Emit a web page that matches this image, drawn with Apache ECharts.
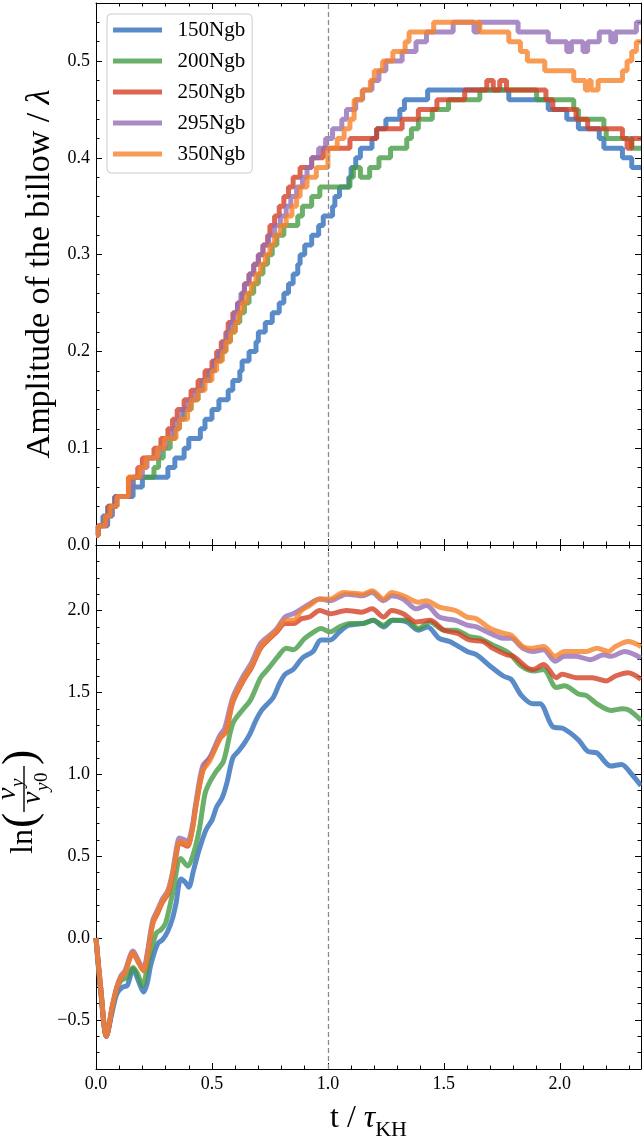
<!DOCTYPE html>
<html>
<head>
<meta charset="utf-8">
<script src="https://cdn.jsdelivr.net/npm/echarts@6/dist/echarts.min.js"></script>
<style>
  html, body { margin: 0; padding: 0; background: #fff; }
  #chart { width: 642px; height: 1142px; }
</style>
</head>
<body>
<div id="chart"></div>
<script>
// runs
const names = ['150Ngb', '200Ngb', '250Ngb', '295Ngb', '350Ngb']
const colors = ['#316ebc', '#459b45', '#d34024', '#936eb8', '#f6822a']

// top panel: amplitude, step curves (time of each jump, value after it)
const ampT150 = [0, 0.01, 0.03, 0.05, 0.08, 0.16, 0.20, 0.31, 0.34, 0.38, 0.40, 0.45, 0.47, 0.50, 0.53, 0.57, 0.59, 0.62, 0.63, 0.66, 0.69, 0.70, 0.73, 0.76, 0.79, 0.81, 0.83, 0.85, 0.87, 0.88, 0.90, 0.93, 0.96, 0.98, 1.02, 1.03, 1.05, 1.09, 1.10, 1.12, 1.14, 1.19, 1.21, 1.25, 1.31, 1.33, 1.43, 1.78, 1.95, 2.03, 2.08, 2.17, 2.19, 2.27, 2.31, 2.35]
const amp150 = [0.01, 0.02, 0.03, 0.04, 0.05, 0.06, 0.07, 0.08, 0.09, 0.10, 0.11, 0.12, 0.13, 0.14, 0.15, 0.16, 0.17, 0.18, 0.19, 0.20, 0.21, 0.22, 0.23, 0.24, 0.25, 0.26, 0.27, 0.28, 0.29, 0.30, 0.31, 0.32, 0.33, 0.34, 0.35, 0.36, 0.37, 0.38, 0.39, 0.40, 0.41, 0.42, 0.43, 0.44, 0.45, 0.46, 0.47, 0.46, 0.45, 0.44, 0.43, 0.42, 0.41, 0.40, 0.39, 0.39]

const ampT200 = [0, 0.01, 0.05, 0.07, 0.09, 0.15, 0.16, 0.25, 0.27, 0.29, 0.32, 0.34, 0.36, 0.38, 0.41, 0.44, 0.46, 0.49, 0.51, 0.54, 0.56, 0.58, 0.60, 0.62, 0.64, 0.66, 0.68, 0.70, 0.72, 0.74, 0.76, 0.78, 0.81, 0.87, 0.89, 0.93, 0.965, 1.095, 1.11, 1.14, 1.18, 1.22, 1.27, 1.34, 1.36, 1.39, 1.45, 1.52, 1.655, 1.90, 2.06, 2.08, 2.19, 2.20, 2.31, 2.35]
const amp200 = [0.01, 0.02, 0.03, 0.04, 0.05, 0.06, 0.07, 0.08, 0.09, 0.10, 0.11, 0.12, 0.13, 0.14, 0.15, 0.16, 0.17, 0.18, 0.19, 0.20, 0.21, 0.22, 0.23, 0.24, 0.25, 0.26, 0.27, 0.28, 0.29, 0.30, 0.31, 0.32, 0.33, 0.34, 0.35, 0.36, 0.37, 0.38, 0.39, 0.38, 0.39, 0.40, 0.41, 0.42, 0.43, 0.44, 0.45, 0.46, 0.47, 0.46, 0.45, 0.44, 0.43, 0.42, 0.41, 0.41]

const ampT250 = [0, 0.01, 0.04, 0.055, 0.085, 0.14, 0.18, 0.20, 0.25, 0.28, 0.31, 0.33, 0.35, 0.38, 0.41, 0.44, 0.47, 0.50, 0.52, 0.54, 0.56, 0.57, 0.59, 0.61, 0.63, 0.64, 0.66, 0.68, 0.70, 0.72, 0.74, 0.75, 0.77, 0.79, 0.81, 0.83, 0.85, 0.88, 0.93, 0.98, 1.095, 1.21, 1.32, 1.39, 1.47, 1.59, 1.685, 1.713, 1.741, 1.77, 1.94, 1.97, 2.07, 2.12, 2.27, 2.29, 2.31, 2.35]
const amp250 = [0.01, 0.02, 0.03, 0.04, 0.05, 0.07, 0.08, 0.09, 0.10, 0.11, 0.12, 0.13, 0.14, 0.15, 0.16, 0.17, 0.18, 0.19, 0.20, 0.21, 0.22, 0.23, 0.24, 0.25, 0.26, 0.27, 0.28, 0.29, 0.30, 0.31, 0.32, 0.33, 0.34, 0.35, 0.36, 0.37, 0.38, 0.39, 0.40, 0.41, 0.42, 0.43, 0.44, 0.45, 0.46, 0.47, 0.48, 0.47, 0.48, 0.47, 0.46, 0.45, 0.44, 0.43, 0.42, 0.41, 0.42, 0.42]

const ampT295 = [0, 0.01, 0.05, 0.07, 0.09, 0.15, 0.16, 0.20, 0.22, 0.27, 0.30, 0.33, 0.35, 0.37, 0.40, 0.43, 0.46, 0.49, 0.51, 0.53, 0.55, 0.565, 0.58, 0.595, 0.61, 0.625, 0.64, 0.66, 0.68, 0.70, 0.72, 0.745, 0.77, 0.795, 0.82, 0.84, 0.865, 0.89, 0.91, 0.93, 0.96, 0.99, 1.02, 1.06, 1.08, 1.12, 1.15, 1.19, 1.22, 1.25, 1.32, 1.38, 1.425, 1.54, 1.63, 1.65, 1.82, 1.95, 2.03, 2.05, 2.10, 2.12, 2.17, 2.22, 2.24, 2.33, 2.35]
const amp295 = [0.01, 0.02, 0.03, 0.04, 0.05, 0.06, 0.07, 0.08, 0.09, 0.10, 0.11, 0.12, 0.13, 0.14, 0.15, 0.16, 0.17, 0.18, 0.19, 0.20, 0.21, 0.22, 0.23, 0.24, 0.25, 0.26, 0.27, 0.28, 0.29, 0.30, 0.31, 0.32, 0.33, 0.34, 0.35, 0.36, 0.37, 0.38, 0.39, 0.40, 0.41, 0.42, 0.43, 0.44, 0.45, 0.46, 0.47, 0.48, 0.49, 0.50, 0.51, 0.52, 0.53, 0.54, 0.53, 0.54, 0.53, 0.52, 0.51, 0.52, 0.51, 0.52, 0.53, 0.52, 0.53, 0.54, 0.54]

const ampT350 = [0, 0.01, 0.04, 0.06, 0.09, 0.14, 0.19, 0.215, 0.265, 0.295, 0.345, 0.36, 0.395, 0.41, 0.44, 0.47, 0.50, 0.52, 0.545, 0.56, 0.58, 0.60, 0.615, 0.63, 0.65, 0.67, 0.69, 0.71, 0.73, 0.75, 0.77, 0.795, 0.82, 0.845, 0.865, 0.88, 0.91, 0.95, 1.0, 1.04, 1.07, 1.095, 1.113, 1.148, 1.183, 1.20, 1.236, 1.28, 1.333, 1.35, 1.456, 1.655, 1.78, 1.83, 1.86, 1.935, 2.06, 2.11, 2.125, 2.135, 2.165, 2.27, 2.29, 2.31, 2.33, 2.35]
const amp350 = [0.01, 0.02, 0.03, 0.04, 0.05, 0.07, 0.08, 0.09, 0.10, 0.11, 0.12, 0.13, 0.14, 0.15, 0.16, 0.17, 0.18, 0.19, 0.20, 0.21, 0.22, 0.23, 0.24, 0.25, 0.26, 0.27, 0.28, 0.29, 0.30, 0.31, 0.32, 0.33, 0.34, 0.35, 0.36, 0.37, 0.38, 0.39, 0.41, 0.42, 0.43, 0.44, 0.46, 0.47, 0.48, 0.49, 0.50, 0.51, 0.52, 0.53, 0.54, 0.53, 0.52, 0.51, 0.50, 0.49, 0.48, 0.47, 0.48, 0.47, 0.48, 0.49, 0.50, 0.51, 0.52, 0.52]

// bottom panel: ln(vy/vy0)
const lnT150 = [0, 0.02, 0.045, 0.07, 0.09, 0.115, 0.135, 0.16, 0.185, 0.205, 0.22, 0.237, 0.266, 0.287, 0.309, 0.33, 0.345, 0.366, 0.385, 0.40, 0.42, 0.445, 0.474, 0.50, 0.52, 0.545, 0.565, 0.59, 0.614, 0.64, 0.665, 0.69, 0.714, 0.74, 0.765, 0.79, 0.815, 0.85, 0.89, 0.936, 0.97, 1.01, 1.05, 1.09, 1.15, 1.195, 1.24, 1.28, 1.34, 1.39, 1.43, 1.48, 1.525, 1.60, 1.64, 1.70, 1.756, 1.79, 1.835, 1.885, 1.914, 1.97, 2.014, 2.08, 2.12, 2.16, 2.22, 2.266, 2.31, 2.35]
const ln150 = [0, -0.32, -0.60, -0.45, -0.34, -0.30, -0.29, -0.19, -0.27, -0.33, -0.28, -0.16, -0.035, -0.01, 0.04, 0.12, 0.21, 0.36, 0.34, 0.31, 0.41, 0.54, 0.66, 0.72, 0.80, 0.86, 0.95, 1.10, 1.14, 1.19, 1.25, 1.33, 1.39, 1.43, 1.47, 1.55, 1.61, 1.64, 1.71, 1.75, 1.82, 1.82, 1.87, 1.91, 1.92, 1.94, 1.90, 1.94, 1.93, 1.88, 1.90, 1.83, 1.81, 1.75, 1.73, 1.66, 1.60, 1.58, 1.48, 1.43, 1.43, 1.29, 1.28, 1.21, 1.14, 1.13, 1.05, 1.06, 1.00, 0.93]

const lnT200 = [0, 0.02, 0.045, 0.07, 0.09, 0.108, 0.135, 0.16, 0.18, 0.20, 0.23, 0.26, 0.28, 0.30, 0.33, 0.366, 0.395, 0.417, 0.445, 0.47, 0.49, 0.52, 0.55, 0.59, 0.63, 0.665, 0.71, 0.74, 0.785, 0.82, 0.85, 0.90, 0.94, 0.97, 1.01, 1.05, 1.095, 1.15, 1.195, 1.24, 1.275, 1.34, 1.39, 1.44, 1.50, 1.55, 1.61, 1.655, 1.71, 1.78, 1.835, 1.89, 1.93, 1.985, 2.02, 2.08, 2.115, 2.16, 2.22, 2.27, 2.30, 2.35]
const ln200 = [0, -0.32, -0.60, -0.43, -0.31, -0.26, -0.24, -0.18, -0.22, -0.29, -0.12, 0.03, 0.05, 0.09, 0.27, 0.485, 0.44, 0.50, 0.66, 0.88, 0.95, 1.02, 1.08, 1.31, 1.39, 1.45, 1.59, 1.64, 1.72, 1.77, 1.76, 1.83, 1.87, 1.89, 1.87, 1.90, 1.92, 1.92, 1.94, 1.91, 1.94, 1.94, 1.89, 1.93, 1.88, 1.88, 1.84, 1.83, 1.79, 1.74, 1.66, 1.63, 1.64, 1.53, 1.54, 1.49, 1.48, 1.43, 1.39, 1.40, 1.39, 1.33]

const lnT250 = [0, 0.02, 0.045, 0.07, 0.09, 0.108, 0.125, 0.16, 0.18, 0.205, 0.22, 0.245, 0.265, 0.287, 0.31, 0.33, 0.345, 0.36, 0.38, 0.395, 0.415, 0.43, 0.46, 0.48, 0.50, 0.535, 0.56, 0.59, 0.635, 0.67, 0.71, 0.75, 0.78, 0.815, 0.85, 0.886, 0.92, 0.965, 1.01, 1.08, 1.145, 1.19, 1.24, 1.275, 1.325, 1.38, 1.44, 1.50, 1.56, 1.61, 1.67, 1.71, 1.77, 1.80, 1.86, 1.885, 1.93, 1.985, 2.01, 2.07, 2.14, 2.20, 2.24, 2.295, 2.35]
const ln250 = [0, -0.30, -0.60, -0.42, -0.30, -0.24, -0.21, -0.09, -0.14, -0.20, -0.12, 0.09, 0.15, 0.22, 0.27, 0.38, 0.50, 0.58, 0.57, 0.56, 0.66, 0.80, 1.02, 1.08, 1.12, 1.22, 1.26, 1.44, 1.57, 1.65, 1.77, 1.83, 1.87, 1.92, 1.92, 1.95, 1.96, 2.00, 1.98, 2.00, 1.99, 2.01, 1.96, 2.00, 1.98, 1.93, 1.94, 1.88, 1.86, 1.82, 1.81, 1.77, 1.73, 1.72, 1.65, 1.64, 1.67, 1.59, 1.61, 1.59, 1.59, 1.57, 1.60, 1.62, 1.58]

const lnT295 = [0, 0.02, 0.045, 0.07, 0.09, 0.108, 0.125, 0.16, 0.18, 0.205, 0.22, 0.245, 0.265, 0.287, 0.31, 0.33, 0.345, 0.36, 0.38, 0.395, 0.415, 0.43, 0.46, 0.49, 0.535, 0.555, 0.59, 0.635, 0.67, 0.71, 0.75, 0.78, 0.815, 0.85, 0.886, 0.92, 0.965, 1.01, 1.08, 1.15, 1.19, 1.24, 1.275, 1.325, 1.38, 1.425, 1.48, 1.55, 1.60, 1.64, 1.70, 1.76, 1.79, 1.84, 1.885, 1.93, 1.98, 2.02, 2.07, 2.13, 2.19, 2.22, 2.28, 2.35]
const ln295 = [0, -0.30, -0.60, -0.42, -0.30, -0.23, -0.20, -0.08, -0.13, -0.19, -0.10, 0.11, 0.17, 0.24, 0.29, 0.40, 0.53, 0.61, 0.60, 0.59, 0.68, 0.82, 1.05, 1.10, 1.24, 1.28, 1.47, 1.60, 1.68, 1.80, 1.85, 1.89, 1.96, 1.98, 2.01, 2.04, 2.07, 2.06, 2.10, 2.09, 2.11, 2.06, 2.09, 2.07, 2.01, 2.03, 1.96, 1.94, 1.91, 1.90, 1.86, 1.83, 1.83, 1.77, 1.75, 1.76, 1.69, 1.72, 1.72, 1.70, 1.73, 1.72, 1.75, 1.71]

const lnT350 = [0, 0.02, 0.045, 0.07, 0.09, 0.108, 0.125, 0.16, 0.18, 0.205, 0.22, 0.245, 0.265, 0.287, 0.31, 0.33, 0.345, 0.36, 0.38, 0.395, 0.415, 0.43, 0.46, 0.49, 0.535, 0.56, 0.59, 0.635, 0.67, 0.71, 0.75, 0.78, 0.815, 0.85, 0.886, 0.92, 0.965, 1.01, 1.066, 1.15, 1.19, 1.24, 1.275, 1.325, 1.39, 1.425, 1.48, 1.55, 1.60, 1.64, 1.70, 1.76, 1.79, 1.84, 1.885, 1.93, 1.98, 2.02, 2.08, 2.115, 2.16, 2.21, 2.24, 2.295, 2.35]
const ln350 = [0, -0.30, -0.60, -0.42, -0.30, -0.24, -0.21, -0.09, -0.14, -0.20, -0.12, 0.09, 0.16, 0.23, 0.28, 0.39, 0.51, 0.59, 0.58, 0.57, 0.66, 0.80, 1.02, 1.08, 1.22, 1.26, 1.45, 1.58, 1.66, 1.78, 1.84, 1.88, 1.94, 1.94, 2.00, 2.03, 2.07, 2.07, 2.11, 2.10, 2.12, 2.07, 2.11, 2.09, 2.05, 2.06, 2.02, 2.00, 1.96, 1.95, 1.89, 1.86, 1.85, 1.78, 1.77, 1.78, 1.72, 1.75, 1.75, 1.75, 1.77, 1.75, 1.78, 1.81, 1.78]

// ticks
const xMajor = [0, 0.5, 1, 1.5, 2]
const xMinor = [0.1, 0.2, 0.3, 0.4, 0.6, 0.7, 0.8, 0.9, 1.1, 1.2, 1.3, 1.4, 1.6, 1.7, 1.8, 1.9, 2.1, 2.2, 2.3]
const ampMajor = [0, 0.1, 0.2, 0.3, 0.4, 0.5]
const ampMinor = [0.02, 0.04, 0.06, 0.08, 0.12, 0.14, 0.16, 0.18, 0.22, 0.24, 0.26, 0.28, 0.32, 0.34, 0.36, 0.38, 0.42, 0.44, 0.46, 0.48, 0.52, 0.54]
const lnMajor = [-0.5, 0, 0.5, 1, 1.5, 2]
const lnMinor = [-0.7, -0.6, -0.4, -0.3, -0.2, -0.1, 0.1, 0.2, 0.3, 0.4, 0.6, 0.7, 0.8, 0.9, 1.1, 1.2, 1.3, 1.4, 1.6, 1.7, 1.8, 1.9, 2.1, 2.2, 2.3]

const serif = '"Liberation Serif", "DejaVu Serif", serif'
const fmt = v => v.toFixed(1).replace('-', '\u2212')
const pairs = (ts, vs) => ts.map((t, i) => [t, vs[i]])

function axis(grid, pos, min, max, ticks, len, labels) {
  return {
    type: 'value', gridIndex: grid, position: pos, min: min, max: max,
    axisLine: { show: len > 4, onZero: false, lineStyle: { color: '#000', width: 1 } },
    axisTick: { show: true, inside: true, length: len, customValues: ticks, lineStyle: { color: '#000', width: 1 } },
    axisLabel: labels
      ? { show: true, customValues: labels, formatter: fmt, color: '#000', fontFamily: serif, fontSize: 18, margin: 6 }
      : { show: false },
    splitLine: { show: false }
  }
}

const xAxes = []
const yAxes = []
;[0, 1].forEach(g => {
  xAxes.push(axis(g, 'bottom', 0, 2.35, xMajor, 6, g === 1 ? xMajor : null))
  xAxes.push(axis(g, 'bottom', 0, 2.35, xMinor, 3.5, null))
  xAxes.push(axis(g, 'top', 0, 2.35, xMajor, 6, null))
  xAxes.push(axis(g, 'top', 0, 2.35, xMinor, 3.5, null))
})
yAxes.push(axis(0, 'left', 0, 0.56, ampMajor, 6, ampMajor))
yAxes.push(axis(0, 'left', 0, 0.56, ampMinor, 3.5, null))
yAxes.push(axis(0, 'right', 0, 0.56, ampMajor, 6, null))
yAxes.push(axis(0, 'right', 0, 0.56, ampMinor, 3.5, null))
yAxes.push(axis(1, 'left', -0.8, 2.4, lnMajor, 6, lnMajor))
yAxes.push(axis(1, 'left', -0.8, 2.4, lnMinor, 3.5, null))
yAxes.push(axis(1, 'right', -0.8, 2.4, lnMajor, 6, null))
yAxes.push(axis(1, 'right', -0.8, 2.4, lnMinor, 3.5, null))

// axis names
Object.assign(yAxes[0], {
  name: '{n|Amplitude of the billow / }{i|λ}', nameLocation: 'middle', nameRotate: 90, nameGap: 31,
  nameTextStyle: { rich: {
    n: { fontFamily: serif, fontSize: 34, color: '#000' },
    i: { fontFamily: serif, fontSize: 34, color: '#000', fontStyle: 'italic' }
  } }
})
Object.assign(xAxes[4], {
  name: '{n|t / }{i|τ}{s|KH}', nameLocation: 'middle', nameGap: 28,
  nameTextStyle: { rich: {
    n: { fontFamily: serif, fontSize: 32, color: '#000', lineHeight: 44, verticalAlign: 'middle' },
    i: { fontFamily: serif, fontSize: 32, color: '#000', fontStyle: 'italic', lineHeight: 44, verticalAlign: 'middle' },
    s: { fontFamily: serif, fontSize: 22, color: '#000', lineHeight: 22, verticalAlign: 'bottom' }
  } }
})

const ampT = [ampT150, ampT200, ampT250, ampT295, ampT350]
const ampV = [amp150, amp200, amp250, amp295, amp350]
const lnT = [lnT150, lnT200, lnT250, lnT295, lnT350]
const lnV = [ln150, ln200, ln250, ln295, ln350]

const dashLine = {
  silent: true, symbol: 'none', label: { show: false },
  lineStyle: { type: [5, 3], color: '#8a8a8a', width: 1.3 },
  data: [{ xAxis: 1 }]
}

const series = []
names.forEach((n, i) => {
  series.push({
    name: n, type: 'line', xAxisIndex: 0, yAxisIndex: 0, step: 'end',
    data: pairs(ampT[i], ampV[i]), showSymbol: false, color: colors[i],
    lineStyle: { width: 5, opacity: 0.8 }, itemStyle: { opacity: 0.8 },
    markLine: i === 0 ? dashLine : undefined
  })
})
names.forEach((n, i) => {
  series.push({
    name: n, type: 'line', xAxisIndex: 4, yAxisIndex: 4, smooth: 0.3,
    data: pairs(lnT[i], lnV[i]), showSymbol: false, color: colors[i],
    lineStyle: { width: 5, opacity: 0.8 }, itemStyle: { opacity: 0.8 },
    markLine: i === 0 ? dashLine : undefined
  })
})

// ln(vy/vy0) label, drawn rotated
const t = (text, x, y, size, style) => ({
  type: 'text', x: x, y: y,
  style: { text: text, font: (style || '') + ' ' + size + 'px ' + serif, fill: '#000', textVerticalAlign: 'bottom' }
})
const yLabel = {
  type: 'group', x: 24, y: 854, rotation: Math.PI / 2,
  children: [
    t('ln', 0, 16, 32),
    t('(', 26, 21, 46),
    t('v', 54, -2, 28, 'italic'), t('y', 67, 3, 19, 'italic'),
    { type: 'rect', shape: { x: 42, y: -0.7, width: 46, height: 1.4 }, style: { fill: '#000' } },
    t('v', 50, 23, 28, 'italic'), t('y', 63, 28, 19, 'italic'), t('0', 72, 28, 19),
    t(')', 89, 21, 46)
  ]
}

const chart = echarts.init(document.getElementById('chart'))
chart.setOption({
  animation: false,
  grid: [
    { left: 96, top: 3, width: 545, height: 542 },
    { left: 96, top: 545, width: 545, height: 543 }
  ],
  legend: {
    data: names, orient: 'vertical', left: 107, top: 14,
    itemWidth: 49, itemHeight: 5, itemGap: 9, icon: 'rect',
    padding: [5, 7, 8, 6], borderColor: '#cccccc', borderWidth: 1, borderRadius: 4,
    backgroundColor: 'rgba(255,255,255,0.8)',
    formatter: n => '\u2002' + n,
    textStyle: { fontFamily: serif, fontSize: 21, color: '#000', lineHeight: 22 }
  },
  xAxis: xAxes,
  yAxis: yAxes,
  series: series,
  graphic: [yLabel]
})
</script>
</body>
</html>
